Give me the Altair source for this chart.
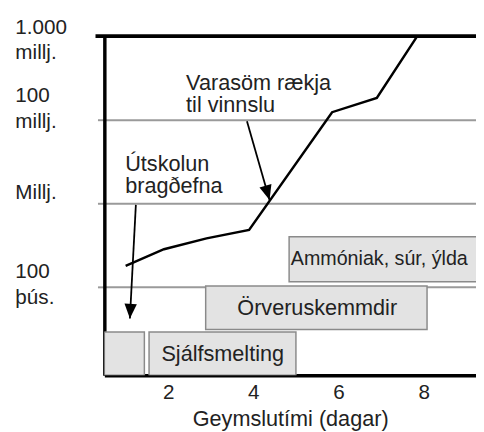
import math
import altair as alt
import pandas as pd

# ---- data (schematic level units: 1 = 100 þús., 2 = Millj., 3 = 100 millj., 4 = 1.000 millj.)
line_days = [1.0, 1.9, 2.9, 3.9, 5.85, 6.9, 7.85]
line_levels = [1.25, 1.45, 1.58, 1.68, 3.09, 3.26, 4.0]

y_tick_levels = [1, 2, 3, 4]
y_tick_labels = ["100\nþús.", "Millj.", "100\nmillj.", "1.000\nmillj."]
x_tick_days = [2, 4, 6, 8]

box_start = [0.5, 1.55, 2.88, 4.84]
box_end = [1.44, 5.0, 8.08, 10.0]
box_bottom = [-0.06, -0.06, 0.49, 1.06]
box_top = [0.46, 0.46, 1.01, 1.6]

center_labels = ["Sjálfsmelting", "Örveruskemmdir"]
center_label_day = [3.28, 5.5]
center_label_level = [0.2, 0.75]
left_labels = ["Ammóniak, súr, ýlda"]
left_label_day = [4.88]
left_label_level = [1.33]

note_texts = ["Varasöm rækja\ntil vinnslu", "Útskolun\nbragðefna"]
note_day = [2.42, 0.99]
note_level = [3.36, 2.39]

arrow_from_day = [3.85, 1.24]
arrow_from_level = [2.98, 1.98]
arrow_to_day = [4.38, 1.10]
arrow_to_level = [2.04, 0.62]

# ---- layout
W, H = 378, 345
X_DOMAIN = [0.5, 0.5 + W / 43.3]
Y_DOMAIN = [-0.06, 4.0]
FONT = "Liberation Sans"
TXT = "#222222"

xs = alt.Scale(domain=X_DOMAIN, nice=False, zero=False)
ys = alt.Scale(domain=Y_DOMAIN, nice=False, zero=False)

label_expr = ""
for lv, lab in zip(y_tick_levels, y_tick_labels):
    parts = "[" + ",".join("'" + p + "'" for p in lab.split("\n")) + "]"
    label_expr += f"datum.value == {lv} ? {parts} : "
label_expr += "''"

# per-label vertical nudges of the y labels (style)
label_nudge = {1: -15, 2: -11, 3: -24, 4: -9}
label_offset = {
    "condition": [{"test": f"datum.value == {k}", "value": v} for k, v in label_nudge.items()],
    "value": 0,
}

line_df = pd.DataFrame({"day": line_days, "level": line_levels})
box_df = pd.DataFrame({"x1": box_start, "x2": box_end, "y1": box_bottom, "y2": box_top})
cl_df = pd.DataFrame({"day": center_label_day, "level": center_label_level, "t": center_labels})
ll_df = pd.DataFrame({"day": left_label_day, "level": left_label_level, "t": left_labels})
note_df = pd.DataFrame({"day": note_day, "level": note_level, "t": note_texts})

px_per_day = W / (X_DOMAIN[1] - X_DOMAIN[0])
px_per_level = H / (Y_DOMAIN[1] - Y_DOMAIN[0])
angles = []
for fd, fl, td, tl in zip(arrow_from_day, arrow_from_level, arrow_to_day, arrow_to_level):
    dx = (td - fd) * px_per_day
    dy = -(tl - fl) * px_per_level
    angles.append((-math.degrees(math.atan2(dx, dy))) % 360)
arrow_df = pd.DataFrame({"fd": arrow_from_day, "fl": arrow_from_level,
                         "td": arrow_to_day, "tl": arrow_to_level, "ang": angles})

base_x = alt.X("day:Q", scale=xs, title="Geymslutími (dagar)",
               axis=alt.Axis(values=x_tick_days, ticks=False, grid=False, domain=True,
                             domainColor="black", domainWidth=3.5, labelFont=FONT,
                             labelFontSize=21, labelColor=TXT, labelPadding=7,
                             titleFont=FONT, titleFontSize=22, titleFontWeight="normal",
                             titleColor=TXT, titlePadding=6, labelFlush=False))
base_y = alt.Y("level:Q", scale=ys, title=None,
               axis=alt.Axis(values=y_tick_levels, labelExpr=label_expr, grid=True,
                             gridColor="#9a9a9a", gridWidth=2, tickColor="#9a9a9a",
                             tickSize=7, tickWidth=2, domainColor="black", domainWidth=3.5,
                             labelAlign="left", labelPadding=84, labelFont=FONT,
                             labelFontSize=21, labelLineHeight=26, labelColor=TXT,
                             labelBaseline="middle", labelOffset=label_offset,
                             labelOverlap=False, labelBound=False, labelFlush=False))

axes = alt.Chart(line_df).mark_line(opacity=0).encode(x=base_x, y=base_y)

boxes = alt.Chart(box_df).mark_rect(fill="#e3e3e3", stroke="#8a8a8a", strokeWidth=1.5,
                                    clip=True).encode(
    x=alt.X("x1:Q", scale=xs), x2="x2:Q", y=alt.Y("y1:Q", scale=ys), y2="y2:Q")

top_rule = alt.Chart(pd.DataFrame({"lv": [y_tick_levels[-1]]})).mark_rule(
    color="black", strokeWidth=4).encode(y=alt.Y("lv:Q", scale=ys), x=alt.value(-9),
                                         x2=alt.value(W))

curve = alt.Chart(line_df).mark_line(color="black", strokeWidth=2.5).encode(
    x=alt.X("day:Q", scale=xs), y=alt.Y("level:Q", scale=ys))

cl = alt.Chart(cl_df).mark_text(font=FONT, fontSize=22, color=TXT, align="center",
                                baseline="middle").encode(
    x=alt.X("day:Q", scale=xs), y=alt.Y("level:Q", scale=ys), text="t:N")
ll = alt.Chart(ll_df).mark_text(font=FONT, fontSize=20, color=TXT, align="left",
                                baseline="middle").encode(
    x=alt.X("day:Q", scale=xs), y=alt.Y("level:Q", scale=ys), text="t:N")
notes = alt.Chart(note_df).mark_text(font=FONT, fontSize=22, color=TXT, align="left",
                                     baseline="alphabetic", lineBreak="\n",
                                     lineHeight=23).encode(
    x=alt.X("day:Q", scale=xs), y=alt.Y("level:Q", scale=ys), text="t:N")

arrow_lines = alt.Chart(arrow_df).mark_rule(color="black", strokeWidth=1.8).encode(
    x=alt.X("fd:Q", scale=xs), y=alt.Y("fl:Q", scale=ys), x2="td:Q", y2="tl:Q")
arrow_heads = alt.Chart(arrow_df).mark_point(
    shape="M -0.42 -1 L 0.42 -1 L 0 0 Z", filled=True, color="black", size=900,
    opacity=1).encode(
    x=alt.X("td:Q", scale=xs), y=alt.Y("tl:Q", scale=ys), angle=alt.Angle("ang:Q", scale=None))

chart = alt.layer(axes, boxes, curve, top_rule, cl, ll, notes, arrow_lines, arrow_heads).properties(
    width=W, height=H, autosize=alt.AutoSizeParams(type="none"),
    padding={"left": 98, "top": 25, "right": 0, "bottom": 54},
    background="white",
).configure_view(strokeWidth=0)

chart.save("out.html", embed_options={"renderer": "svg", "actions": False})
